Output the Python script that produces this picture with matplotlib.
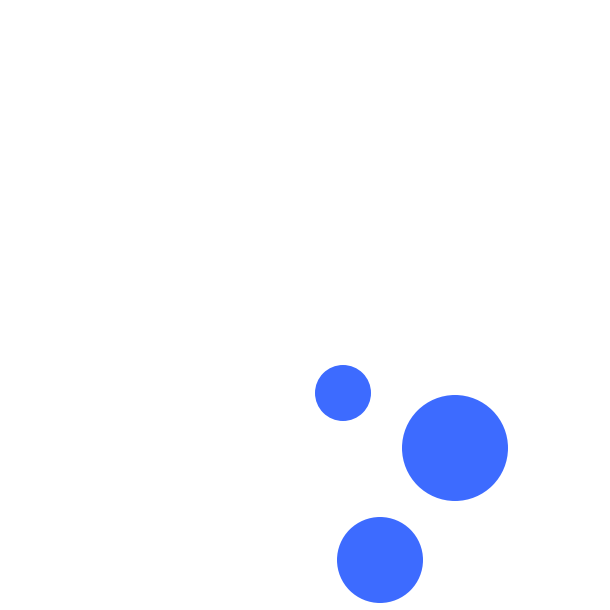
import matplotlib.pyplot as plt

# bubble centres (in chart units, 0..610 with y downwards) and radii
xs = [343, 455, 380]
ys = [393, 448, 560]
radii = [28, 53, 43]

dpi = 100
fig = plt.figure(figsize=(6.1, 6.1), dpi=dpi)
ax = fig.add_axes([0, 0, 1, 1])
ax.set_xlim(0, 610)
ax.set_ylim(610, 0)
ax.axis("off")

# marker size in points^2 from radius in pixels
sizes = [(2 * r * 72 / dpi) ** 2 for r in radii]
ax.scatter(xs, ys, s=sizes, color="#3d6bff", linewidths=0)

fig.savefig("out.png", dpi=dpi, facecolor="white")
